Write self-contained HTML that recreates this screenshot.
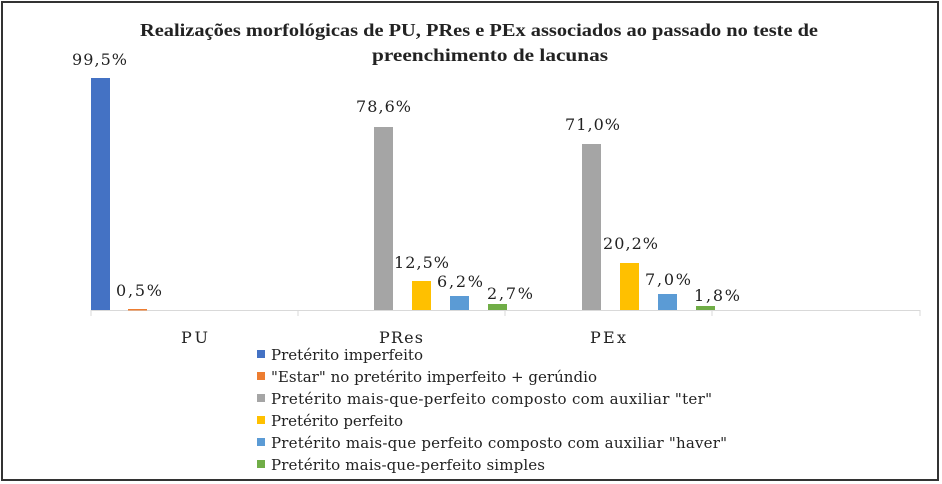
<!DOCTYPE html>
<html><head><meta charset="utf-8"><style>
body{margin:0;width:942px;height:484px;background:#fff;overflow:hidden}
svg{display:block}
</style></head><body>
<svg width="942" height="484" viewBox="0 0 942 484" font-family="'Liberation Serif', 'DejaVu Serif', serif">
<rect x="2" y="2" width="936" height="478" fill="#fff" stroke="#333" stroke-width="2"/>
<g font-family="'Liberation Serif', serif" fill="#222">
<text x="140" y="36" font-size="18" font-weight="bold" textLength="678" lengthAdjust="spacingAndGlyphs">Realizações morfológicas de PU, PRes e PEx associados ao passado no teste de</text>
<text x="372" y="61" font-size="18" font-weight="bold" textLength="236" lengthAdjust="spacingAndGlyphs">preenchimento de lacunas</text>
</g>
<line x1="91" y1="310.5" x2="920" y2="310.5" stroke="#d9d9d9" stroke-width="1"/>
<g stroke="#d9d9d9"><line x1="91" y1="310" x2="91" y2="316"/><line x1="298" y1="310" x2="298" y2="316"/><line x1="505" y1="310" x2="505" y2="316"/><line x1="712" y1="310" x2="712" y2="316"/><line x1="920" y1="310" x2="920" y2="316"/></g>
<rect x="91" y="78" width="19" height="232" fill="#4472c4"/>
<rect x="128" y="309" width="19" height="1.5" fill="#ed7d31"/>
<rect x="374" y="127" width="19" height="183" fill="#a5a5a5"/>
<rect x="412" y="281" width="19" height="29" fill="#ffc000"/>
<rect x="450" y="296" width="19" height="14" fill="#5b9bd5"/>
<rect x="488" y="304" width="19" height="6" fill="#70ad47"/>
<rect x="582" y="144" width="19" height="166" fill="#a5a5a5"/>
<rect x="620" y="263" width="19" height="47" fill="#ffc000"/>
<rect x="658" y="294" width="19" height="16" fill="#5b9bd5"/>
<rect x="696" y="306" width="19" height="4" fill="#70ad47"/>
<g font-family="'DejaVu Serif', serif" font-size="16" fill="#222" lengthAdjust="spacingAndGlyphs">
<text x="72" y="65" textLength="55">99,5%</text>
<text x="116" y="296" textLength="46">0,5%</text>
<text x="356" y="112" textLength="55">78,6%</text>
<text x="394" y="268" textLength="55">12,5%</text>
<text x="437" y="287" textLength="46">6,2%</text>
<text x="487" y="299" textLength="46">2,7%</text>
<text x="565" y="130" textLength="55">71,0%</text>
<text x="603" y="249" textLength="55">20,2%</text>
<text x="645" y="285" textLength="46">7,0%</text>
<text x="694" y="301" textLength="46">1,8%</text>
<text x="181" y="343" textLength="27">PU</text>
<text x="379" y="343" textLength="44">PRes</text>
<text x="590" y="343" textLength="36">PEx</text>
</g>
<g font-family="'DejaVu Serif', serif" font-size="15" fill="#222" lengthAdjust="spacingAndGlyphs">
<rect x="257" y="350" width="8" height="8" fill="#4472c4"/><text x="271" y="360" textLength="152">Pretérito imperfeito</text>
<rect x="257" y="372" width="8" height="8" fill="#ed7d31"/><text x="271" y="382" textLength="326">"Estar" no pretérito imperfeito + gerúndio</text>
<rect x="257" y="394" width="8" height="8" fill="#a5a5a5"/><text x="271" y="404" textLength="441">Pretérito mais-que-perfeito composto com auxiliar "ter"</text>
<rect x="257" y="416" width="8" height="8" fill="#ffc000"/><text x="271" y="426" textLength="132">Pretérito perfeito</text>
<rect x="257" y="438" width="8" height="8" fill="#5b9bd5"/><text x="271" y="448" textLength="456">Pretérito mais-que perfeito composto com auxiliar "haver"</text>
<rect x="257" y="460" width="8" height="8" fill="#70ad47"/><text x="271" y="470" textLength="274">Pretérito mais-que-perfeito simples</text>
</g>
</svg>
</body></html>
